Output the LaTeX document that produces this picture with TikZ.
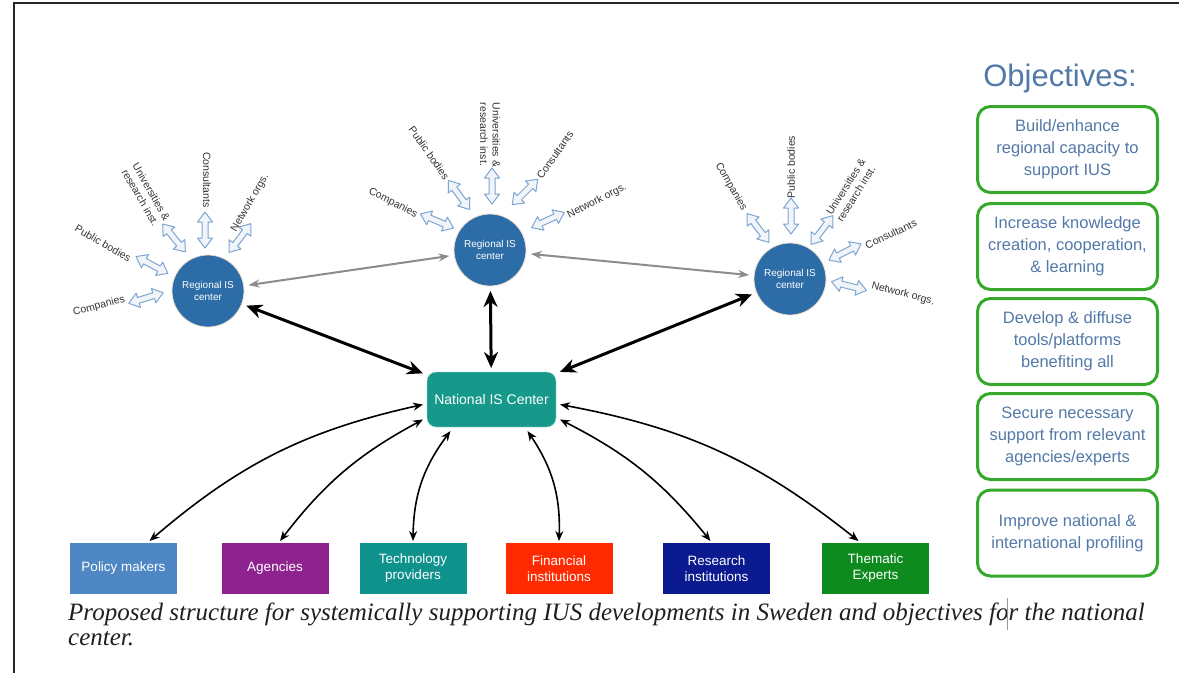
\documentclass[tikz,border=0pt]{standalone}
\usepackage{fontspec}
\setmainfont{Liberation Sans}
\newfontfamily\capfont{Liberation Serif}
\usetikzlibrary{arrows.meta,shapes.geometric}
\definecolor{regblue}{HTML}{2C6CA7}
\definecolor{natteal}{HTML}{16998A}
\definecolor{pmblue}{HTML}{4E87C4}
\definecolor{agpurple}{HTML}{8E2390}
\definecolor{tpteal}{HTML}{0F918C}
\definecolor{fired}{HTML}{FF2A00}
\definecolor{rinavy}{HTML}{0B1B8F}
\definecolor{tegreen}{HTML}{0E8B1E}
\definecolor{objgreen}{HTML}{36A82C}
\definecolor{objtext}{HTML}{5379A8}
\definecolor{arrfill}{HTML}{F1F4F8}
\definecolor{arrdraw}{HTML}{7EA5D2}
\definecolor{lbltext}{HTML}{333333}
\tikzset{
  regc/.style={circle, fill=regblue, draw=white!75!brown, line width=0.8pt, minimum size=72pt, inner sep=0pt, text=white, align=center, font=\fontsize{10}{11.5}\selectfont, outer sep=5pt},
  natbox/.style={rectangle, rounded corners=9pt, fill=natteal, draw=white!70!natteal, minimum width=129pt, minimum height=55pt, text=white, font=\fontsize{14}{16}\selectfont, outer sep=4pt},
  stake/.style={rectangle, minimum width=107pt, minimum height=51pt, text=white, align=center, font=\fontsize{13.5}{16}\selectfont, inner sep=2pt, outer sep=2pt},
  objbox/.style={rectangle, rounded corners=13pt, draw=objgreen, line width=3pt, fill=white, minimum width=180pt, minimum height=86pt, text=objtext, align=center, font=\fontsize{16.5}{22}\selectfont},
  lbl/.style={text=lbltext, font=\fontsize{10.5}{12.5}\selectfont, inner sep=0pt},
  blockarr/.style={fill=arrfill, draw=arrdraw, line width=1pt, line join=round},
  grayarr/.style={draw=black!45, line width=2pt, {Stealth[length=11pt,width=8pt]}-{Stealth[length=11pt,width=8pt]}},
  thickarr/.style={draw=black, line width=3pt, {Stealth[length=16pt,width=14pt]}-{Stealth[length=16pt,width=14pt]}},
  curvarr/.style={draw=black, line width=1.6pt, {Stealth[length=10pt,width=8pt]}-{Stealth[length=10pt,width=8pt]}},
  captext/.style={anchor=base west, inner sep=0pt, text=black!88, font=\capfont\itshape\fontsize{25}{27}\selectfont},
}
\newcommand\blockarrow[2]{%
  \draw[blockarr, shift={#1}, rotate=#2] (-18,0) -- (-8,7.5) -- (-8,3) -- (8,3) -- (8,7.5) -- (18,0) -- (8,-7.5) -- (8,-3) -- (-8,-3) -- (-8,-7.5) -- cycle;}
\begin{document}
\begin{tikzpicture}[x=1pt,y=-1pt]
\useasboundingbox (0,0) rectangle (1179,673);
\fill[white] (0,0) rectangle (1179,673);
% frame
\draw[line width=2pt, black!85] (14,673) -- (14,3) -- (1179,3);

% regional centers
\node[regc] (lc) at (208,291) {Regional IS\\center};
\node[regc] (mc) at (490,250) {Regional IS\\center};
\node[regc] (rc) at (790,279) {Regional IS\\center};
% national center
\node[natbox] (nat) at (491.5,399.5) {National IS Center};

% stakeholder boxes
\node[stake, fill=pmblue] (pm) at (123.5,568.5) {Policy makers};
\node[stake, fill=agpurple] (ag) at (275,568.5) {Agencies};
\node[stake, fill=tpteal] (tp) at (413,568.5) {Technology\\providers};
\node[stake, fill=fired] (fi) at (559,568.5) {Financial\\institutions};
\node[stake, fill=rinavy] (ri) at (716.5,568.5) {Research\\institutions};
\node[stake, fill=tegreen] (te) at (875.5,568.5) {Thematic\\Experts};

% connectors between regional centers
\draw[grayarr] (lc) -- (mc);
\draw[grayarr] (mc) -- (rc);
% connectors regional - national
\draw[thickarr] (lc) -- (nat);
\draw[thickarr] (mc) -- (nat);
\draw[thickarr] (rc) -- (nat);

% curved connectors national - stakeholders
\draw[curvarr] ([yshift=-5pt]nat.west) to[bend right=14] ([xshift=26pt]pm.north);
\draw[curvarr] ([yshift=-20pt]nat.west) to[bend right=12] ([xshift=5pt]ag.north);
\draw[curvarr] ([xshift=-41pt]nat.south) to[bend right=18] (tp.north);
\draw[curvarr] ([xshift=36pt]nat.south) to[bend left=18] (fi.north);
\draw[curvarr] ([yshift=-20pt]nat.east) to[bend left=12] ([xshift=-6pt]ri.north);
\draw[curvarr] ([yshift=-5pt]nat.east) to[bend left=14] ([xshift=-17pt]te.north);

% left cluster
\blockarrow{(146,298)}{17}
\blockarrow{(152,265)}{-28}
\blockarrow{(174,238)}{-51}
\blockarrow{(205,230)}{90}
\blockarrow{(240,238)}{53}
\node[lbl, rotate=15] (l1) at (99,306) {Companies};
\node[lbl, rotate=-30] (l2) at (103,243) {Public bodies};
\node[lbl, rotate=-60, align=left] (l3) at (146,195) {Universities \&\\research inst.};
\node[lbl, rotate=-90] (l4) at (207,180) {Consultants};
\node[lbl, rotate=60] (l5) at (250,203) {Network orgs.};

% middle cluster
\blockarrow{(437,221)}{-23}
\blockarrow{(459,195)}{-54}
\blockarrow{(492,186)}{90}
\blockarrow{(525,192)}{45}
\blockarrow{(548,220)}{25}
\node[lbl, rotate=-27] (m1) at (393,203) {Companies};
\node[lbl, rotate=-55] (m2) at (429,153) {Public bodies};
\node[lbl, rotate=-90, align=left] (m3) at (490,135) {Universities \&\\research inst.};
\node[lbl, rotate=55] (m4) at (555,155) {Consultants};
\node[lbl, rotate=27] (m5) at (597,201) {Network orgs.};

% right cluster
\blockarrow{(758,228)}{-53}
\blockarrow{(791,216)}{90}
\blockarrow{(822,230)}{53}
\blockarrow{(845,252)}{27}
\blockarrow{(849,286)}{-14}
\node[lbl, rotate=-60] (r1) at (731,187) {Companies};
\node[lbl, rotate=90] (r2) at (791,167) {Public bodies};
\node[lbl, rotate=58, align=left] (r3) at (851,190) {Universities \&\\research inst.};
\node[lbl, rotate=25] (r4) at (891,234) {Consultants};
\node[lbl, rotate=-15] (r5) at (903,294) {Network orgs.};

% objectives
\node[text=objtext, font=\fontsize{31}{34}\selectfont, inner sep=0pt] (objt) at (1060,78) {Objectives:};
\node[objbox] (o1) at (1067.5,149.5) {Build/enhance\\regional capacity to\\support IUS};
\node[objbox] (o2) at (1067.5,246.5) {Increase knowledge\\creation, cooperation,\\\& learning};
\node[objbox] (o3) at (1067.5,341.5) {Develop \& diffuse\\tools/platforms\\benefiting all};
\node[objbox] (o4) at (1067.5,436.5) {Secure necessary\\support from relevant\\agencies/experts};
\node[objbox] (o5) at (1067.5,533) {Improve national \&\\international profiling};

% caption
\node[captext] (cap1) at (68,620) {Proposed structure for systemically supporting IUS developments in Sweden and objectives for the national};
\node[captext] (cap2) at (68,645) {center.};
\draw[black!40, line width=1pt] (1007,598) -- (1007,630);
\end{tikzpicture}
\end{document}
